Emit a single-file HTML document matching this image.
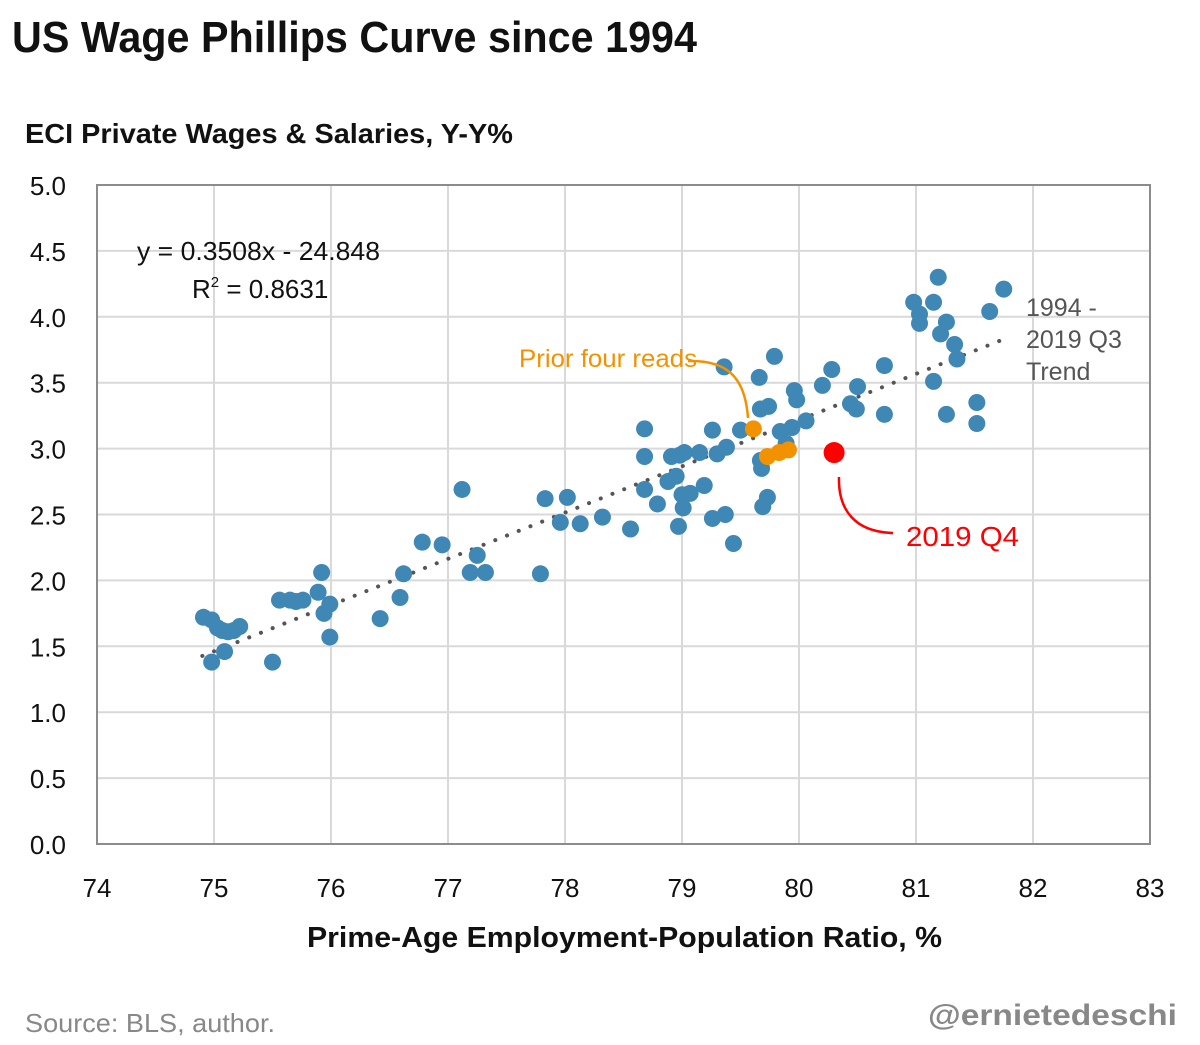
<!DOCTYPE html>
<html><head><meta charset="utf-8"><style>
html,body{margin:0;padding:0;background:#fff;}
svg{display:block;font-family:"Liberation Sans",sans-serif;}
</style></head><body>
<svg id="chart" width="1200" height="1045" viewBox="0 0 1200 1045">
<rect width="1200" height="1045" fill="#fff"/>
<text x="12" y="52" font-size="44" font-weight="bold" fill="#111" textLength="685" lengthAdjust="spacingAndGlyphs">US Wage Phillips Curve since 1994</text>
<text x="25" y="143" font-size="28" font-weight="bold" fill="#111" textLength="488" lengthAdjust="spacingAndGlyphs">ECI Private Wages  &amp; Salaries, Y-Y%</text>
<text x="307" y="947" font-size="29" font-weight="bold" fill="#111" textLength="635" lengthAdjust="spacingAndGlyphs">Prime-Age  Employment-Population  Ratio, %</text>
<text x="25" y="1032" font-size="26" fill="#888" textLength="250" lengthAdjust="spacingAndGlyphs">Source: BLS, author.</text>
<text x="928" y="1025" font-size="30" font-weight="bold" fill="#888" textLength="249" lengthAdjust="spacingAndGlyphs">@ernietedeschi</text>
<g id="grid"></g>
<g id="ticks"></g>
<g id="trend"></g>
<g id="points"></g>
<g>
<text x="137" y="260" font-size="26" fill="#111" textLength="243" lengthAdjust="spacingAndGlyphs">y = 0.3508x  - 24.848</text>
<text x="192" y="298" font-size="26" fill="#111">R<tspan font-size="15" dy="-11">2</tspan><tspan dy="11"> = 0.8631</tspan></text>
<text x="1026" y="316" font-size="25" fill="#555"><tspan x="1026">1994 -</tspan><tspan x="1026" dy="32">2019 Q3</tspan><tspan x="1026" dy="32">Trend</tspan></text>
<text x="519" y="367" font-size="25" fill="#f39200" textLength="178" lengthAdjust="spacingAndGlyphs">Prior four reads</text>
<path d="M688,361 C725,360 745,375 748,418" fill="none" stroke="#f39200" stroke-width="2.5"/>
<text x="906" y="546" font-size="28" fill="#ff0000" textLength="113" lengthAdjust="spacingAndGlyphs">2019 Q4</text>
<path d="M839,477 C838,510 855,532 893,533" fill="none" stroke="#ff0000" stroke-width="2.5"/>
</g>
</svg>
<script>
const xTicks = [74,75,76,77,78,79,80,81,82,83];
const yTicks = [0,0.5,1,1.5,2,2.5,3,3.5,4,4.5,5];
const histX = [74.91,74.98,75.03,75.07,75.12,75.17,75.22,74.98,75.09,75.50,75.56,75.65,75.70,75.76,75.89,75.92,75.94,75.99,75.99,76.42,76.59,76.62,76.78,76.95,77.12,77.19,77.25,77.32,77.79,77.83,77.96,78.02,78.13,78.32,78.56,78.68,78.68,78.68,78.79,78.88,78.91,78.95,78.98,79.02,78.97,79.00,79.01,79.07,79.15,79.19,79.26,79.26,79.30,79.36,79.38,79.37,79.44,79.50,79.66,79.67,79.67,79.68,79.69,79.73,79.74,79.79,79.84,79.89,79.94,79.96,79.98,80.06,80.20,80.28,80.44,80.50,80.49,80.73,80.73,80.98,81.03,81.03,81.15,81.19,81.21,81.26,81.15,81.26,81.33,81.35,81.52,81.52,81.63,81.75];
const histY = [1.72,1.70,1.64,1.62,1.61,1.62,1.65,1.38,1.46,1.38,1.85,1.85,1.84,1.85,1.91,2.06,1.75,1.82,1.57,1.71,1.87,2.05,2.29,2.27,2.69,2.06,2.19,2.06,2.05,2.62,2.44,2.63,2.43,2.48,2.39,3.15,2.94,2.69,2.58,2.75,2.94,2.79,2.95,2.97,2.41,2.65,2.55,2.66,2.97,2.72,3.14,2.47,2.96,3.62,3.01,2.50,2.28,3.14,3.54,3.30,2.91,2.85,2.56,2.63,3.32,3.70,3.13,3.04,3.16,3.44,3.37,3.21,3.48,3.60,3.34,3.47,3.30,3.63,3.26,4.11,4.02,3.95,4.11,4.30,3.87,3.96,3.51,3.26,3.79,3.68,3.35,3.19,4.04,4.21];
const priorX = [79.61,79.73,79.83,79.91];
const priorY = [3.15,2.94,2.97,2.99];
const latestX = [80.30];
const latestY = [2.97];
const trendSlope = 0.3508, trendIntercept = -24.848, trendRange = [74.9, 81.8];

const L=97,R=1150,T=185,B=844, X0=74,X1=83,Y0=0,Y1=5;
const sx=v=>L+(v-X0)/(X1-X0)*(R-L);
const sy=v=>B-(v-Y0)/(Y1-Y0)*(B-T);
const NS='http://www.w3.org/2000/svg';
function mk(tag,attrs,parent,text){const e=document.createElementNS(NS,tag);for(const k in attrs)e.setAttribute(k,attrs[k]);if(text!==undefined)e.textContent=text;parent.appendChild(e);return e;}
const grid=document.getElementById('grid'),ticks=document.getElementById('ticks');
xTicks.forEach(v=>{
  const l=mk('line',{x1:sx(v),x2:sx(v),y1:T,y2:B,stroke:'#d9d9d9','stroke-width':2},grid);
  
  
  const t=mk('text',{x:sx(v),y:897,'font-size':26,'text-anchor':'middle',fill:'#111'},ticks,String(v));
  
  
});
yTicks.forEach(v=>{
  const l=mk('line',{x1:L,x2:R,y1:sy(v),y2:sy(v),stroke:'#d9d9d9','stroke-width':2},grid);
  
  
  const t=mk('text',{x:66,y:sy(v)+10,'font-size':26,'text-anchor':'end',fill:'#111'},ticks,v.toFixed(1));
  
  
});
const frame=mk('rect',{x:L,y:T,width:R-L,height:B-T,fill:'none',stroke:'#8c8c8c','stroke-width':2},grid);


const tr=mk('line',{x1:sx(trendRange[0]),y1:sy(trendSlope*trendRange[0]+trendIntercept),x2:sx(trendRange[1]),y2:sy(trendSlope*trendRange[1]+trendIntercept),stroke:'#555','stroke-width':4,'stroke-dasharray':'0.1 12.5','stroke-linecap':'round'},document.getElementById('trend'));


const pts=document.getElementById('points');
histX.forEach((x,i)=>{
  const c=mk('circle',{cx:sx(x),cy:sy(histY[i]),r:8.5,fill:'#3f87b4'},pts);
  
  
});
priorX.forEach((x,i)=>{
  const c=mk('circle',{cx:sx(x),cy:sy(priorY[i]),r:8.5,fill:'#f39200'},pts);
  
  
});
latestX.forEach((x,i)=>{
  const c=mk('circle',{cx:sx(x),cy:sy(latestY[i]),r:10.5,fill:'#ff0000'},pts);
  
  
});
</script>
</body></html>
